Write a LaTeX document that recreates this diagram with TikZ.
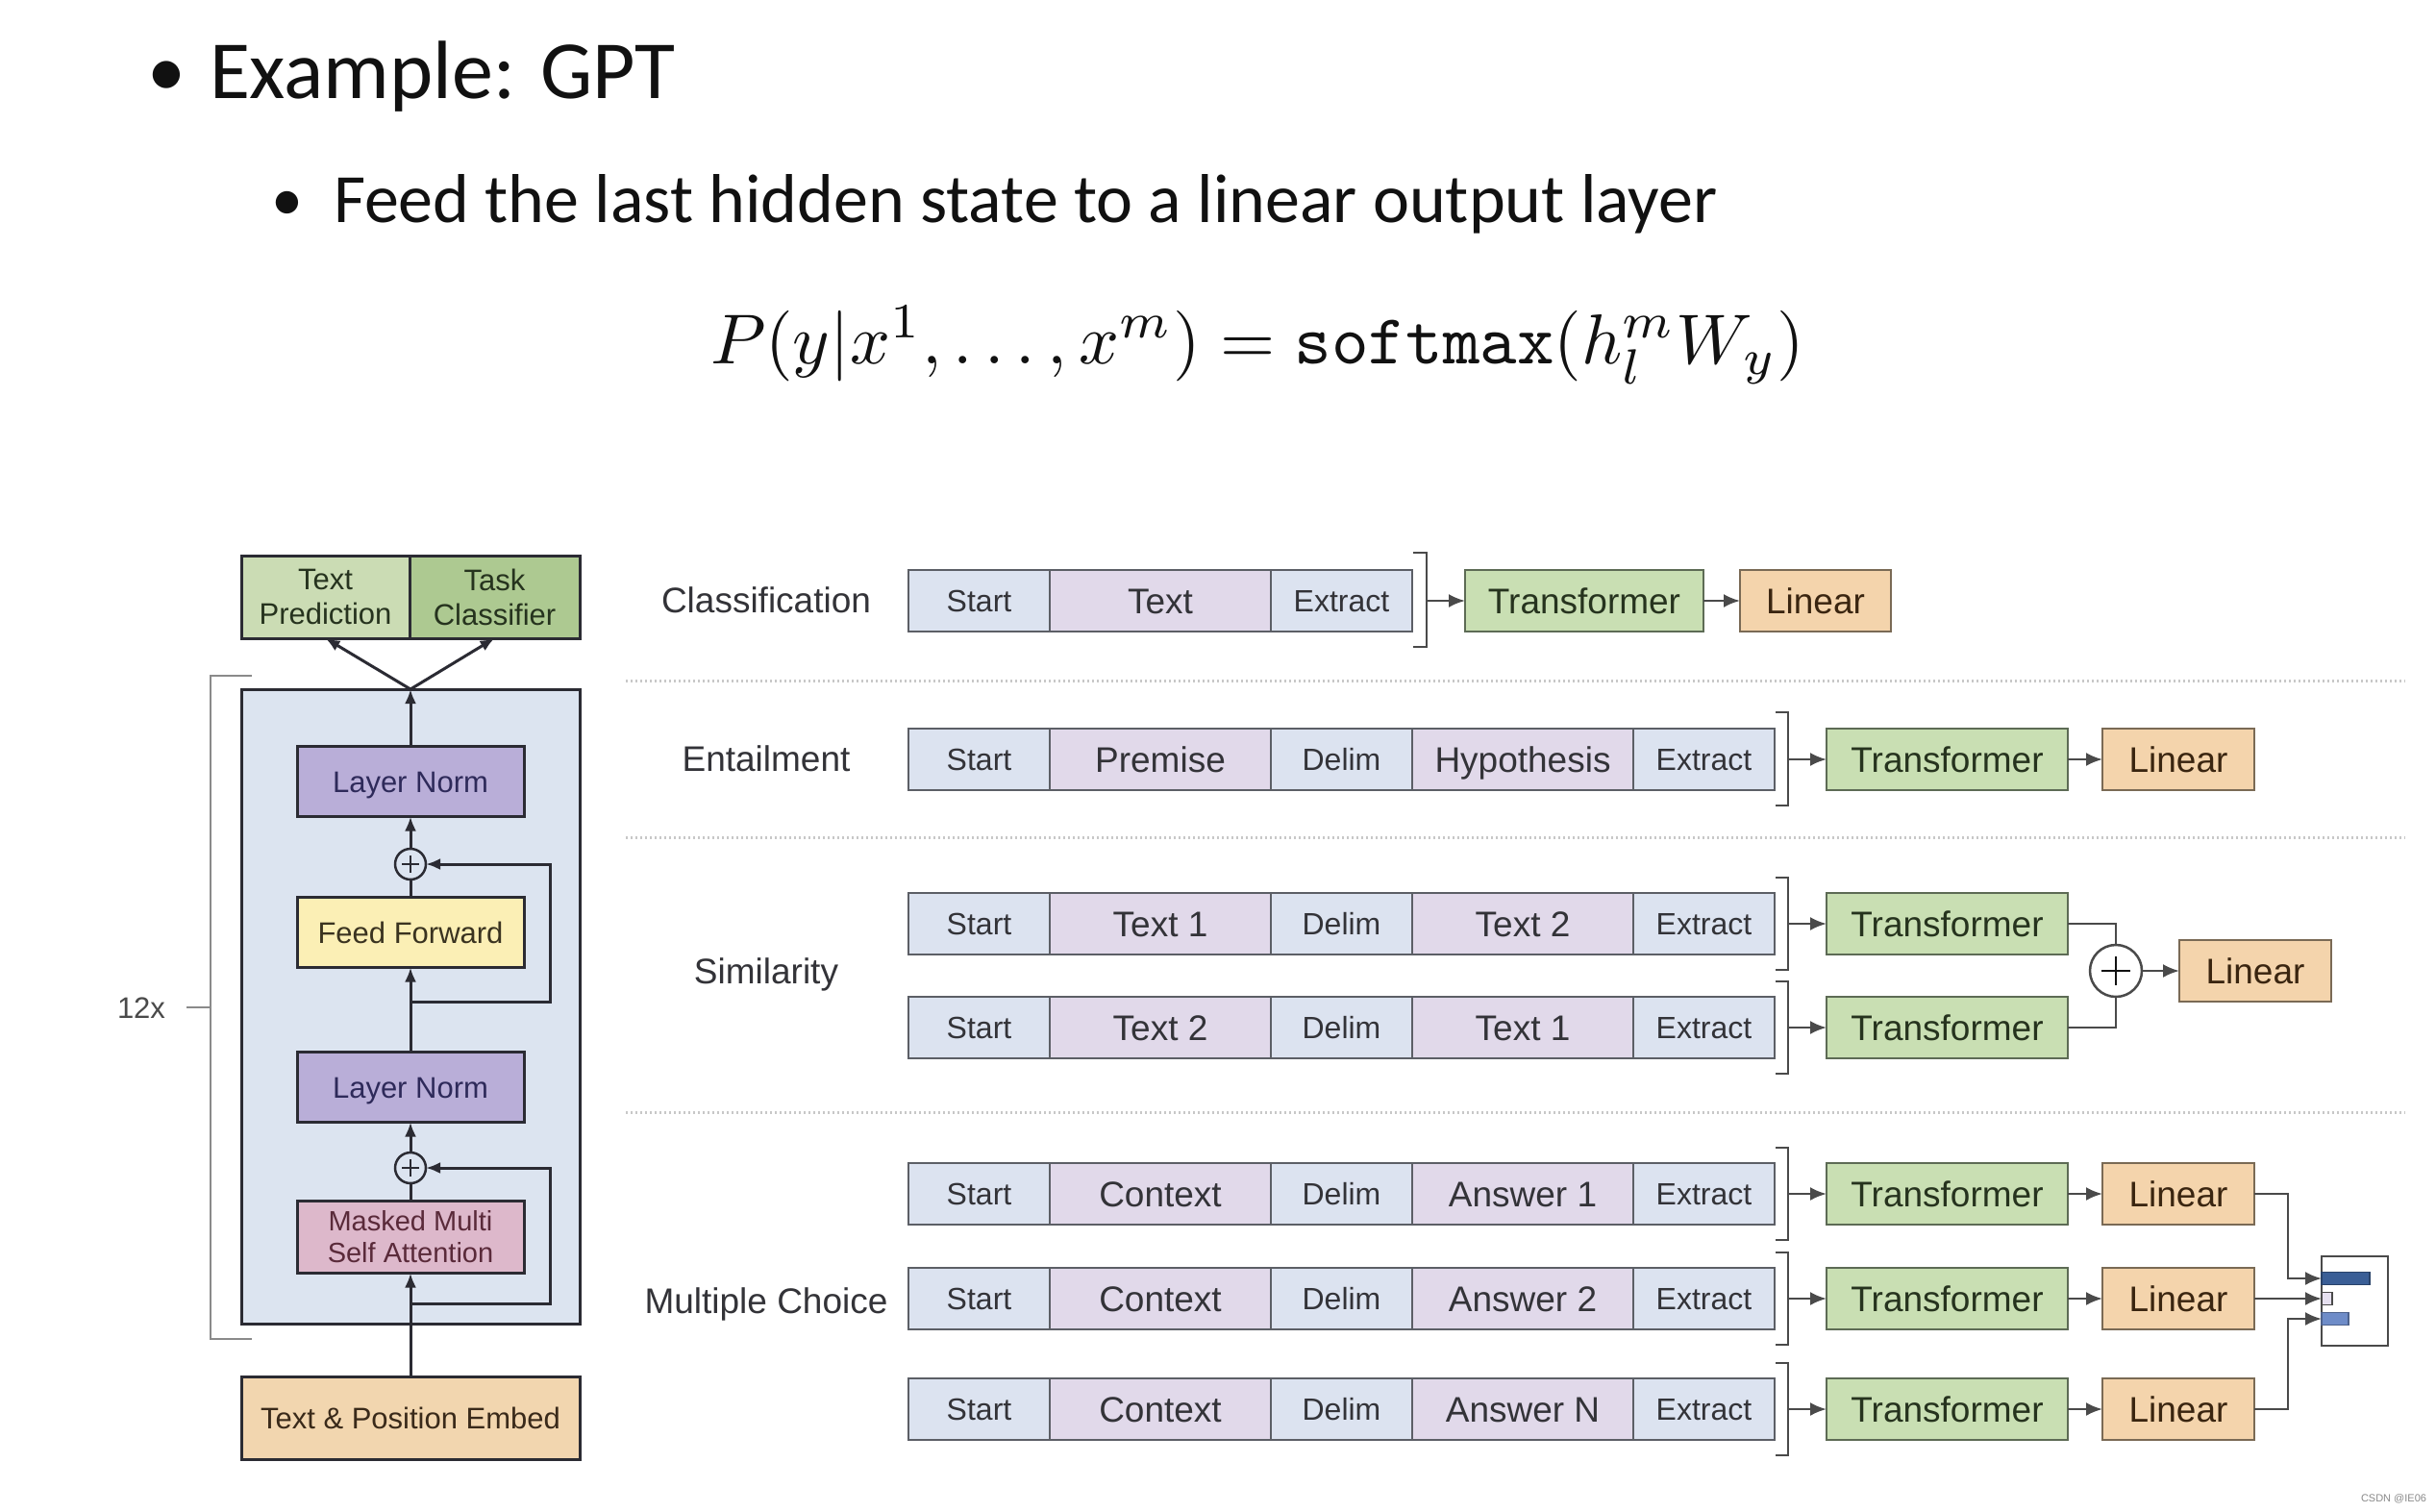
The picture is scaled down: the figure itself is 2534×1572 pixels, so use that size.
\documentclass[tikz,border=0pt]{standalone}
\usepackage{fontspec}
\setmainfont{Liberation Sans}
\newfontfamily\calib{Carlito}
\usetikzlibrary{arrows.meta}
\definecolor{txt}{HTML}{111111}
\definecolor{lng}{HTML}{4A4A4A}
\definecolor{stkline}{HTML}{2B2B33}
\definecolor{bigbox}{HTML}{DCE4F0}
\definecolor{lnorm}{HTML}{B9AED8}
\definecolor{lnormt}{HTML}{2E2A5A}
\definecolor{ffw}{HTML}{FBEFB5}
\definecolor{ffwt}{HTML}{3A3320}
\definecolor{mask}{HTML}{DDB8CB}
\definecolor{maskt}{HTML}{5A2A3A}
\definecolor{emb}{HTML}{F2D6AF}
\definecolor{embt}{HTML}{3A2A1A}
\definecolor{tpg}{HTML}{CBDCB4}
\definecolor{tcg}{HTML}{ADC991}
\definecolor{grnt}{HTML}{26331E}
\definecolor{seqblue}{HTML}{DCE3F0}
\definecolor{seqlav}{HTML}{E1D9EA}
\definecolor{seqline}{HTML}{5C5F66}
\definecolor{seqt}{HTML}{333338}
\definecolor{trfg}{HTML}{C9DFB3}
\definecolor{trfl}{HTML}{5D6B55}
\definecolor{linp}{HTML}{F4D4AC}
\definecolor{linl}{HTML}{7A6A55}
\definecolor{lint}{HTML}{3A2510}
\definecolor{barA}{HTML}{3A5E96}
\definecolor{barB}{HTML}{E6E0F0}
\definecolor{barC}{HTML}{6E8CC8}
\definecolor{brkg}{HTML}{8A8A8A}
\definecolor{dotg}{HTML}{C8C8C8}
\begin{document}
\begin{tikzpicture}[x=1pt,y=-1pt, every node/.style={outer sep=0},
  stk/.style={draw=stkline, line width=3, inner sep=0, align=center,
    font=\fontsize{31}{36}\selectfont, minimum width=236, minimum height=73},
  capb/.style={text height=#1, text depth=0pt},
  sarr/.style={-{Latex[length=15,width=12]}, line width=3, draw=stkline},
  sline/.style={line width=3, draw=stkline},
  seqS/.style={draw=seqline, line width=2.5, fill=seqblue, minimum height=64,
    minimum width=147, inner sep=0, anchor=west, text=seqt, capb=23,
    font=\fontsize{32}{38}\selectfont},
  seqT/.style={seqS, fill=seqlav, minimum width=230, capb=26.5, font=\fontsize{37}{44}\selectfont},
  trf/.style={draw=trfl, line width=2.5, fill=trfg, minimum width=251, minimum height=64,
    inner sep=0, anchor=west, text=grnt, capb=26.5, font=\fontsize{37}{44}\selectfont},
  lin/.style={draw=linl, line width=2.5, fill=linp, minimum width=158, minimum height=64,
    inner sep=0, anchor=west, text=lint, capb=26.5, font=\fontsize{37}{44}\selectfont},
  rowlab/.style={text=seqt, capb=26.5, font=\fontsize{37}{44}\selectfont},
  arr/.style={-{Latex[length=17,width=14]}, line width=2.5, draw=lng},
  lnk/.style={line width=2.5, draw=lng},
  brk/.style={line width=2.5, draw=lng},
  sep/.style={line width=3, draw=dotg, dash pattern=on 2pt off 3pt},
]
\useasboundingbox[fill=white] (0,0) rectangle (2534,1572);

% ---------- heading ----------
\node[anchor=base west, inner sep=0, text=txt, font=\calib\fontsize{80}{100}\selectfont] (b1) at (153,100) {•};
\node[anchor=base west, inner sep=0, text=txt, font=\calib\fontsize{86}{100}\selectfont] (h1) at (218,102) {Example: GPT};
\node[anchor=base west, inner sep=0, text=txt, font=\calib\fontsize{66}{86}\selectfont] (b2) at (282,229) {•};
\node[anchor=base west, inner sep=0, text=txt, font=\calib\fontsize{72}{86}\selectfont] (h2) at (347,231) {Feed the last hidden state to a linear output layer};
\node[scale=7.35, text=txt] (eq) at (1308,359) {$P(y|x^1,\ldots,x^m)=\texttt{softmax}(h_l^mW_y)$};

% ---------- left stack ----------
\node[draw=stkline, line width=3, fill=bigbox, minimum width=352, minimum height=660, inner sep=0] (blk) at (427,1047) {};
\node[stk, fill=tpg, text=grnt, minimum width=175, minimum height=86] (tp) at (338.5,621) {Text\\Prediction};
\node[stk, fill=tcg, text=grnt, minimum width=177, minimum height=86] (tc) at (514.5,621) {Task\\Classifier};
\node[stk, capb=22, fill=lnorm, text=lnormt] (ln1) at (427,813) {Layer Norm};
\node[circle, draw=stkline, line width=2.5, minimum size=32, inner sep=0] (p1) at (427,899) {};
\node[stk, capb=22, fill=ffw, text=ffwt] (ff) at (427,970) {Feed Forward};
\node[stk, capb=22, fill=lnorm, text=lnormt] (ln2) at (427,1131) {Layer Norm};
\node[circle, draw=stkline, line width=2.5, minimum size=32, inner sep=0] (p2) at (427,1215) {};
\node[stk, fill=mask, text=maskt, minimum height=75, font=\fontsize{29}{33}\selectfont] (ma) at (427,1287) {Masked Multi\\Self Attention};
\node[stk, capb=22, fill=emb, text=embt, minimum width=352, minimum height=86] (emb) at (427,1475) {Text \& Position Embed};
\foreach \p in {p1,p2}{
  \draw[line width=2.2, draw=stkline] (\p.center) +(-9,0) -- +(9,0);
  \draw[line width=2.2, draw=stkline] (\p.center) +(0,-9) -- +(0,9);
}
\draw[sarr] (emb.north) -- (ma.south);
\draw[sline] (ma.north) -- (p2.south);
\draw[sarr] (427,1356) -- (572,1356) -- (572,1215) -- (p2.east);
\draw[sarr] (p2.north) -- (ln2.south);
\draw[sarr] (ln2.north) -- (ff.south);
\draw[sline] (ff.north) -- (p1.south);
\draw[sarr] (427,1042) -- (572,1042) -- (572,899) -- (p1.east);
\draw[sarr] (p1.north) -- (ln1.south);
\draw[sarr] (ln1.north) -- (blk.north);
\draw[sarr] (blk.north) -- (tp.south);
\draw[sarr] (blk.north) -- (tc.south);
\draw[line width=2.5, draw=brkg] (262,703) -- (219,703) -- (219,1393) -- (262,1393);
\coordinate (tk) at (219,1048);
\node[text=lng, capb=22, font=\fontsize{31}{36}\selectfont] (n12) at (147,1048) {12x};
\draw[line width=2.5, draw=brkg] (194,1048) -- (tk);

% ---------- separators ----------
\draw[sep] (651,708) -- (2502,708);
\draw[sep] (651,871) -- (2502,871);
\draw[sep] (651,1157) -- (2502,1157);

% ---------- Classification ----------
\node[rowlab] (lc) at (797,624) {Classification};
\node[seqS] (ca) at (945,625) {Start};
\node[seqT] (cb) at (ca.east) {Text};
\node[seqS] (cc) at (cb.east) {Extract};
\draw[brk] (1470,575) -- (1484,575) -- (1484,673) -- (1470,673);
\coordinate (cbr) at (1484,625);
\node[trf, minimum width=248] (ct) at (1524,625) {Transformer};
\node[lin, minimum width=157] (cl) at (1810,625) {Linear};
\draw[arr] (cbr) -- (ct.west);
\draw[arr] (ct.east) -- (cl.west);

% ---------- Entailment ----------
\node[rowlab] (le) at (797,789) {Entailment};
\node[seqS] (ea) at (945,790) {Start};
\node[seqT] (eb) at (ea.east) {Premise};
\node[seqS] (ec) at (eb.east) {Delim};
\node[seqT] (ed) at (ec.east) {Hypothesis};
\node[seqS] (ee) at (ed.east) {Extract};
\draw[brk] (1847,741) -- (1860,741) -- (1860,838) -- (1847,838);
\coordinate (ebr) at (1860,790);
\node[trf] (et) at (1900,790) {Transformer};
\node[lin] (el) at (2187,790) {Linear};
\draw[arr] (ebr) -- (et.west);
\draw[arr] (et.east) -- (el.west);

% ---------- Similarity ----------
\node[rowlab] (ls) at (797,1010) {Similarity};
\node[seqS] (sa) at (945,961) {Start};
\node[seqT] (sb) at (sa.east) {Text 1};
\node[seqS] (sc) at (sb.east) {Delim};
\node[seqT] (sd) at (sc.east) {Text 2};
\node[seqS] (se) at (sd.east) {Extract};
\node[seqS] (sf) at (945,1069) {Start};
\node[seqT] (sg) at (sf.east) {Text 2};
\node[seqS] (sh) at (sg.east) {Delim};
\node[seqT] (si) at (sh.east) {Text 1};
\node[seqS] (sj) at (si.east) {Extract};
\draw[brk] (1847,913) -- (1860,913) -- (1860,1009) -- (1847,1009);
\draw[brk] (1847,1021) -- (1860,1021) -- (1860,1117) -- (1847,1117);
\coordinate (sbr1) at (1860,961);
\coordinate (sbr2) at (1860,1069);
\node[trf] (st1) at (1900,961) {Transformer};
\node[trf] (st2) at (1900,1069) {Transformer};
\node[circle, draw=lng, line width=2.5, fill=white, minimum size=54, inner sep=0] (sp) at (2201,1010) {};
\draw[line width=2.8, draw=txt] (sp.center) +(-15,0) -- +(15,0);
\draw[line width=2.8, draw=txt] (sp.center) +(0,-15) -- +(0,15);
\node[lin] (sl) at (2267,1010) {Linear};
\draw[arr] (sbr1) -- (st1.west);
\draw[arr] (sbr2) -- (st2.west);
\draw[lnk] (st1.east) -| (sp.north);
\draw[lnk] (st2.east) -| (sp.south);
\draw[arr] (sp.east) -- (sl.west);

% ---------- Multiple Choice ----------
\node[rowlab] (lm) at (797,1353) {Multiple Choice};
\foreach \r/\y/\ans in {1/1242/Answer 1, 2/1351/Answer 2, 3/1466/Answer N}{
  \node[seqS] (ma\r) at (945,\y) {Start};
  \node[seqT] (mb\r) at (ma\r.east) {Context};
  \node[seqS] (mc\r) at (mb\r.east) {Delim};
  \node[seqT] (md\r) at (mc\r.east) {\ans};
  \node[seqS] (me\r) at (md\r.east) {Extract};
  \draw[brk] (1847,\y-48) -- (1860,\y-48) -- (1860,\y+48) -- (1847,\y+48);
  \coordinate (mbr\r) at (1860,\y);
  \node[trf] (mt\r) at (1900,\y) {Transformer};
  \node[lin] (ml\r) at (2187,\y) {Linear};
  \draw[arr] (mbr\r) -- (mt\r.west);
  \draw[arr] (mt\r.east) -- (ml\r.west);
}
\node[draw=lng, line width=2.5, fill=white, minimum width=69, minimum height=93, inner sep=0, anchor=north west] (ob) at (2415,1307) {};
\node[draw=barA!70!black, line width=1.2, fill=barA, minimum width=50, minimum height=13, inner sep=0, anchor=west] (bA) at (2415,1330) {};
\node[draw=lng, line width=1.2, fill=barB, minimum width=11, minimum height=13, inner sep=0, anchor=west] (bB) at (2415,1351) {};
\node[draw=barC!70!black, line width=1.2, fill=barC, minimum width=28, minimum height=13, inner sep=0, anchor=west] (bC) at (2415,1372) {};
\draw[arr] (ml1.east) -- (2380,1242) |- (bA.west);
\draw[arr] (ml2.east) -- (bB.west);
\draw[arr] (ml3.east) -- (2380,1466) |- (bC.west);

% watermark
\node[text=brkg, font=\fontsize{11}{13}\selectfont] (wm) at (2490,1559) {CSDN @IE06};
\end{tikzpicture}
\end{document}
